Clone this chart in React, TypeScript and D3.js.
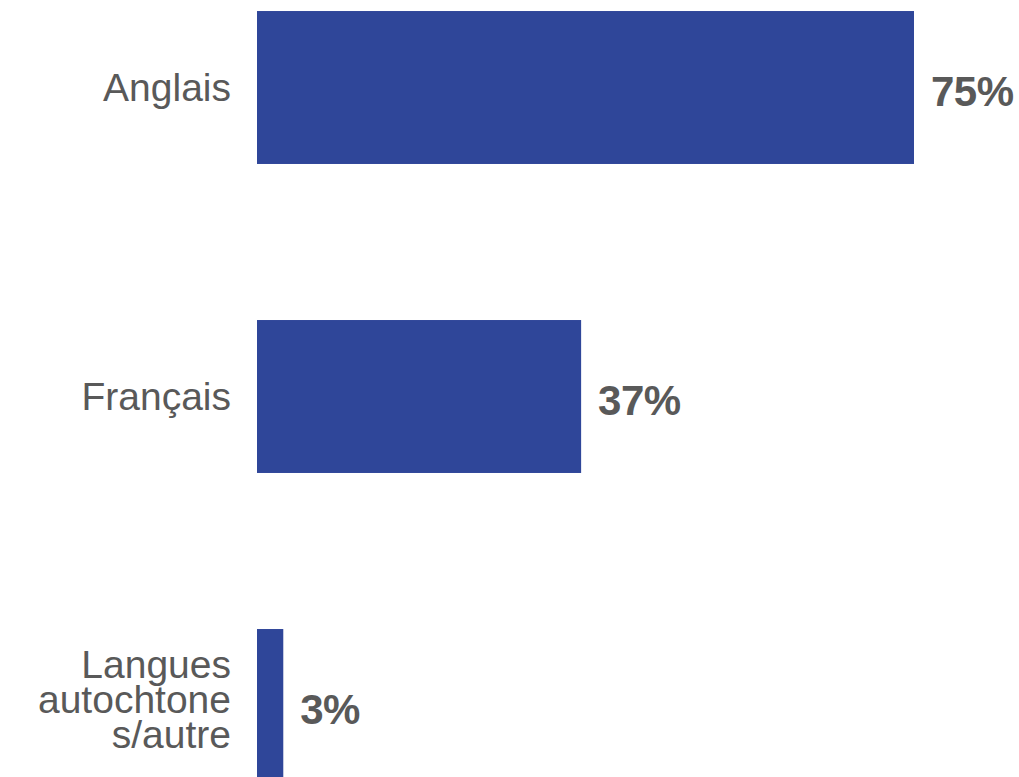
import React from "react";
import * as d3 from "d3";

const categories = ["Anglais", "Français", "Langues autochtone s/autre"];
const categoryLines = [["Anglais"], ["Français"], ["Langues", "autochtone", "s/autre"]];
const values = [75, 37, 3];
const valueLabels = ["75%", "37%", "3%"];

const W = 1019;
const H = 777;

export default function App() {
  const x = d3.scaleLinear().domain([0, 75]).range([257, 914]);
  const y = d3
    .scaleBand<string>()
    .domain(categories)
    .range([-67, 860])
    .paddingInner(0.505)
    .paddingOuter(0.2525);
  const bw = y.bandwidth();
  const fontFam = "'Century Gothic', 'Liberation Sans', Arial, sans-serif";
  const lineH = 35;
  return (
    <svg
      width={W}
      height={H}
      style={{ position: "absolute", left: 0, top: 0, background: "#fff" }}
    >
      {categories.map((c, i) => {
        const y0 = y(c) as number;
        const cy = y0 + bw / 2;
        const lines = categoryLines[i];
        const off = lines.length > 1 ? 7.5 : 13;
        return (
          <g key={c}>
            <rect x={x(0)} y={y0} width={x(values[i]) - x(0)} height={bw} fill="#2F4699" />
            {lines.map((l, j) => (
              <text
                key={j}
                x={231}
                y={cy + off + (j - (lines.length - 1) / 2) * lineH}
                textAnchor="end"
                fontFamily={fontFam}
                fontSize={39}
                fill="#595959"
              >
                {l}
              </text>
            ))}
            <text
              x={x(values[i]) + 17}
              y={cy + 18}
              fontFamily={fontFam}
              fontSize={42}
              fontWeight="bold"
              letterSpacing={-0.5}
              fill="#595959"
            >
              {valueLabels[i]}
            </text>
          </g>
        );
      })}
    </svg>
  );
}
